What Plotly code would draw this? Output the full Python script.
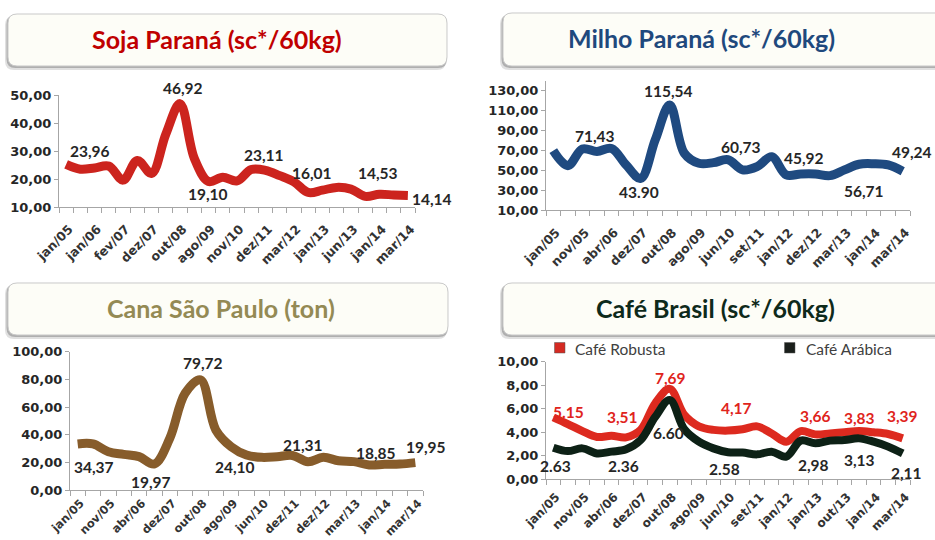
import plotly.graph_objects as go

# ---------------- DATA ----------------
soja_ticks = ['jan/05', 'jan/06', 'fev/07', 'dez/07', 'out/08', 'ago/09', 'nov/10',
              'dez/11', 'mar/12', 'jan/13', 'jun/13', 'jan/14', 'mar/14']
soja_vals = [25.2, 23.5, 23.96, 24.6, 19.6, 26.6, 22.0, 36.0, 46.92, 27.4, 19.10, 20.6, 19.3,
             23.4, 23.11, 21.2, 19.0, 15.2, 16.01, 17.0, 16.4, 13.8, 14.53, 14.3, 14.14]
soja_labels = ['23,96', '46,92', '19,10', '23,11', '16,01', '14,53', '14,14']
soja_label_idx = [2, 8, 10, 14, 18, 22, 24]

milho_ticks = ['jan/05', 'nov/05', 'abr/06', 'dez/07', 'out/08', 'ago/09', 'jun/10',
               'set/11', 'jan/12', 'dez/12', 'mar/13', 'jan/14', 'mar/14']
milho_vals = [69.9, 54.8, 71.43, 69.0, 72.0, 55.5, 42.0, 80.6, 115.54, 67.2, 57.2, 57.8, 60.73,
              50.5, 53.8, 63.8, 45.5, 46.5, 46.5, 44.8, 50.5, 56.2, 56.71, 55.5, 49.24]
milho_labels = ['71,43', '43.90', '115,54', '60,73', '45,92', '56,71', '49,24']
milho_label_idx = [2, 6, 8, 12, 17, 22, 24]

cana_ticks = ['jan/05', 'nov/05', 'abr/06', 'dez/07', 'out/08', 'ago/09', 'jun/10',
              'dez/11', 'dez/12', 'mar/13', 'jan/14', 'mar/14']
cana_vals = [33.3, 33.3, 27.7, 25.8, 24.1, 18.8, 37.3, 69.9, 79.72, 43.4, 31.3, 25.3,
             23.6, 24.1, 25.0, 20.5, 23.6, 21.2, 20.5, 18.1, 18.6, 18.8, 19.8]
cana_labels = ['34,37', '19,97', '79,72', '24,10', '21,31', '18,85', '19,95']
cana_label_idx = [1, 5, 8, 10, 15, 19, 22]

cafe_ticks = ['jan/05', 'nov/05', 'abr/06', 'dez/07', 'out/08', 'ago/09', 'jun/10',
              'set/11', 'jan/12', 'jan/13', 'out/13', 'jan/14', 'mar/14']
robusta_vals = [5.27, 4.7, 4.1, 3.6, 3.7, 3.57, 4.2, 6.46, 7.69, 5.47, 4.5, 4.2, 4.14,
                4.25, 4.5, 3.9, 3.2, 4.1, 3.82, 3.9, 4.0, 4.1, 4.0, 3.85, 3.48]
arabica_vals = [2.69, 2.4, 2.63, 2.2, 2.35, 2.55, 3.34, 5.3, 6.74, 4.25, 3.2, 2.63, 2.3,
                2.27, 2.12, 2.35, 1.93, 3.29, 3.06, 3.29, 3.34, 3.48, 3.2, 2.78, 2.2]
robusta_labels = ['5.15', '3,51', '7,69', '4,17', '3,66', '3,83', '3,39']
robusta_label_idx = [1, 5, 8, 13, 18, 21, 24]
arabica_labels = ['2.63', '2.36', '6.60', '2.58', '2,98', '3,13', '2,11']
arabica_label_idx = [0, 5, 8, 12, 18, 21, 24]

titles = ['Soja Paraná (sc*/60kg)', 'Milho Paraná (sc*/60kg)',
          'Cana São Paulo (ton)', 'Café Brasil (sc*/60kg)']
legend_names = ['Café Robusta', 'Café Arábica']

# ---------------- STYLE / LAYOUT ----------------
W, H = 935, 540
def fx(p):
    return p / W
def fy(p):
    return 1 - p / H

# label pixel offsets (dx right, dy down)
soja_off = [(-5, -17), (3, -16), (-1, 12), (-1, -15), (-10, -17), (-1, -21), (24, 4)]
milho_off = [(13, -13), (-2, 14), (-1.5, -14.5), (13, -13), (3.5, -15.6), (-9.6, 27), (9, -19.5)]
cana_off = [(1, 23), (-3, 18), (3, -17), (4, 20), (-4.6, -17), (7, -12), (11, -16)]
robusta_off = [(0.5, -12), (-4, -20.6), (1, -10.6), (-6, -21), (0, -18.7), (0, -12.8), (0, -22.7)]
arabica_off = [(2, 18), (-3, 16.4), (-1.5, 32.7), (-4, 17), (-2, 22), (0, 22), (4, 20)]

AX = '#A6A6A6'
TXT = '#262626'
BOLD_FONT = 'DejaVu Sans'

panels = [
    dict(x=(59, 415), y=(95, 207), rng=[10, 50], tick0=10, dtick=10, std=9, fs=12.5),
    dict(x=(546, 910), y=(80.7, 210.3), rng=[10, 140], tick0=10, dtick=20, std=9, fs=12.5),
    dict(x=(70, 423), y=(351.7, 490), rng=[0, 100], tick0=0, dtick=20, std=1, fs=11.5),
    dict(x=(546, 910), y=(361.7, 479.3), rng=[0, 10], tick0=0, dtick=2, std=5, fs=12),
]
tick_sets = [soja_ticks, milho_ticks, cana_ticks, cafe_ticks]
ncats = [len(soja_vals), len(milho_vals), len(cana_vals), len(robusta_vals)]

fig = go.Figure()

def add_line(vals, color, k, name, width=9):
    xs = list(range(len(vals)))
    sfx = '' if k == 1 else str(k)
    fig.add_trace(go.Scatter(
        x=xs, y=vals, mode='lines', name=name,
        line=dict(color=color, width=width, shape='spline', smoothing=1.0),
        xaxis='x' + sfx, yaxis='y' + sfx, showlegend=False, hoverinfo='skip'))

add_line(soja_vals, '#CC241E', 1, 'Soja')
add_line(milho_vals, '#1F4A80', 2, 'Milho')
add_line(cana_vals, '#875C2B', 3, 'Cana')
add_line(robusta_vals, '#DD2A1F', 4, legend_names[0], width=8)
add_line(arabica_vals, '#0D2116', 4, legend_names[1], width=8)

layout = dict(width=W, height=H,
              margin=dict(l=0, r=0, t=0, b=0, pad=0, autoexpand=False),
              paper_bgcolor='white', plot_bgcolor='white', separators=',.',
              showlegend=False)

for k, (p, ticks, n) in enumerate(zip(panels, tick_sets, ncats), start=1):
    sfx = '' if k == 1 else str(k)
    layout['xaxis' + sfx] = dict(
        domain=[fx(p['x'][0]), fx(p['x'][1])], anchor='y' + sfx,
        range=[-0.5, n - 0.5], tickmode='array',
        tickvals=list(range(0, n, 2)), ticktext=ticks, tickangle=-45,
        ticks='', showline=True, linecolor=AX, linewidth=1,
        showgrid=False, zeroline=False, automargin=False,
        ticklabelstandoff=p['std'], ticklabelshift=3,
        minor=dict(tickmode='linear', tick0=-0.5, dtick=1, ticks='outside',
                   ticklen=5, tickcolor=AX, showgrid=False),
        tickfont=dict(family=BOLD_FONT, size=p['fs'], color='#333333', weight='bold'))
    layout['yaxis' + sfx] = dict(
        domain=[fy(p['y'][1]), fy(p['y'][0])], anchor='x' + sfx,
        range=p['rng'], tick0=p['tick0'], dtick=p['dtick'], tickformat='.2f',
        ticks='outside', ticklen=4, tickcolor=AX, showline=True, linecolor=AX,
        linewidth=1, showgrid=False, zeroline=False, automargin=False,
        tickfont=dict(family=BOLD_FONT, size=13, color=TXT, weight='bold'))

annotations = []

def add_labels(vals, idx, texts, offs, k, color=TXT):
    sfx = '' if k == 1 else str(k)
    for i, t, (dx, dy) in zip(idx, texts, offs):
        annotations.append(dict(
            x=i, y=vals[i], xref='x' + sfx, yref='y' + sfx, text=t,
            showarrow=False, xshift=dx, yshift=-dy,
            font=dict(family='Lato', size=15.5, color=color, weight='bold')))

add_labels(soja_vals, soja_label_idx, soja_labels, soja_off, 1)
add_labels(milho_vals, milho_label_idx, milho_labels, milho_off, 2)
add_labels(cana_vals, cana_label_idx, cana_labels, cana_off, 3)
add_labels(robusta_vals, robusta_label_idx, robusta_labels, robusta_off, 4, color='#E0241C')
add_labels(arabica_vals, arabica_label_idx, arabica_labels, arabica_off, 4)

# title boxes
def rrect(x0, y0, x1, y1, r):
    pts = [('M', [(x0 + r, y0)]), ('L', [(x1 - r, y0)]), ('Q', [(x1, y0), (x1, y0 + r)]),
           ('L', [(x1, y1 - r)]), ('Q', [(x1, y1), (x1 - r, y1)]), ('L', [(x0 + r, y1)]),
           ('Q', [(x0, y1), (x0, y1 - r)]), ('L', [(x0, y0 + r)]), ('Q', [(x0, y0), (x0 + r, y0)])]
    s = ''
    for cmd, ps in pts:
        s += cmd + ' ' + ' '.join(f'{fx(a):.5f},{fy(b):.5f}' for a, b in ps) + ' '
    return s + 'Z'

boxes = [(8, 14, 447, 66), (503, 13, 945, 66), (8, 283, 448, 335), (503, 283, 945, 335)]
title_pos = [(217, 39), (701, 38), (221, 308), (715, 308)]
title_colors = ['#C00000', '#1F497D', '#948A54', '#0E2A1B']

shapes = []
for (x0, y0, x1, y1) in boxes:
    shapes.append(dict(type='path', xref='paper', yref='paper',
                       path=rrect(x0 - 3, y0 + 2, x1 - 1, y1 + 4, 9),
                       fillcolor='rgba(0,0,0,0.12)', line=dict(width=0), layer='below'))
    shapes.append(dict(type='path', xref='paper', yref='paper',
                       path=rrect(x0 - 1.5, y0 + 1, x1, y1 + 2, 9),
                       fillcolor='rgba(0,0,0,0.22)', line=dict(width=0), layer='below'))
    shapes.append(dict(type='path', xref='paper', yref='paper',
                       path=rrect(x0, y0, x1, y1, 9),
                       fillcolor='#FDFDF7', line=dict(color='#C9C9C9', width=1), layer='below'))

for t, (cx, cy), c in zip(titles, title_pos, title_colors):
    annotations.append(dict(x=fx(cx), y=fy(cy), xref='paper', yref='paper', text=t,
                            showarrow=False, xanchor='center', yanchor='middle',
                            font=dict(family='Lato', size=25, color=c, weight='bold')))

# legend for café
leg_marker = [(554.5, 342.5, 565, 353), (784.5, 342.5, 795, 353)]
leg_colors = ['#D42A22', '#1A1F1B']
leg_text_x = [573, 804]
for (x0, y0, x1, y1), c, name, tx in zip(leg_marker, leg_colors, legend_names, leg_text_x):
    shapes.append(dict(type='rect', xref='paper', yref='paper', x0=fx(x0), x1=fx(x1),
                       y0=fy(y1), y1=fy(y0), fillcolor=c, line=dict(color='#555555', width=0.5)))
    annotations.append(dict(x=fx(tx), y=fy(349), xref='paper', yref='paper', text=name,
                            showarrow=False, xanchor='left', yanchor='middle',
                            font=dict(family='Lato', size=15.5, color='#404040')))

layout['shapes'] = shapes
layout['annotations'] = annotations
fig.update_layout(**layout)
fig.write_html('out.html', config={'displayModeBar': False},
               post_script="document.body.style.margin='0';document.body.style.overflow='hidden';")
